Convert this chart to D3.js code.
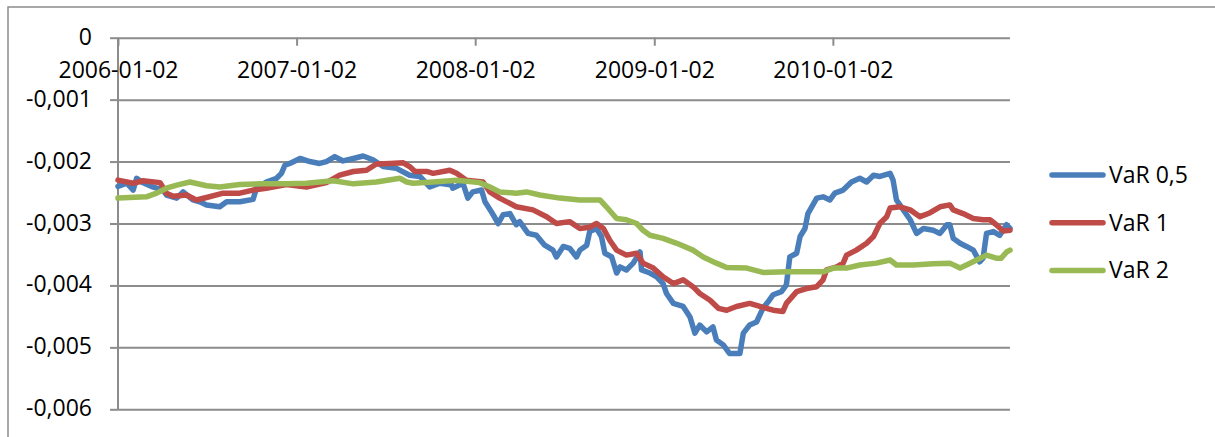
<!DOCTYPE html>
<html>
<head>
<meta charset="utf-8">
<script src="https://cdn.jsdelivr.net/npm/d3@7/dist/d3.min.js"></script>
<style>
  html, body { margin: 0; padding: 0; background: #ffffff; }
  svg { display: block; }
  text { font-family: "Open Sans", "Liberation Sans", sans-serif; fill: #000; }
</style>
</head>
<body>
<svg id="chart" width="1215" height="437"></svg>
<script>
// Tick labels of the two axes
const xTickDates = ["2006-01-02", "2007-01-02", "2008-01-02", "2009-01-02", "2010-01-02"];
const yTickValues = [0, -0.001, -0.002, -0.003, -0.004, -0.005, -0.006];

// Series names as shown in the legend
const seriesNames = ["VaR 0,5", "VaR 1", "VaR 2"];

// VaR 0,5
const var05 = [
  ["2006-01-02", -0.00240], ["2006-01-20", -0.00235], ["2006-02-02", -0.00246], ["2006-02-09", -0.00227],
  ["2006-02-19", -0.00233], ["2006-03-14", -0.00241], ["2006-04-04", -0.00246], ["2006-04-11", -0.00254],
  ["2006-05-02", -0.00259], ["2006-05-15", -0.00249], ["2006-06-04", -0.00262], ["2006-06-18", -0.00265],
  ["2006-07-02", -0.00270], ["2006-07-29", -0.00273], ["2006-08-12", -0.00265], ["2006-09-08", -0.00265],
  ["2006-10-05", -0.00261], ["2006-10-12", -0.00243], ["2006-11-01", -0.00233], ["2006-11-22", -0.00227],
  ["2006-12-02", -0.00219], ["2006-12-09", -0.00206], ["2006-12-19", -0.00203], ["2007-01-09", -0.00195],
  ["2007-01-29", -0.00200], ["2007-02-18", -0.00203], ["2007-03-04", -0.00200], ["2007-03-21", -0.00192],
  ["2007-04-07", -0.00199], ["2007-04-28", -0.00195], ["2007-05-18", -0.00191], ["2007-06-07", -0.00197],
  ["2007-06-28", -0.00208], ["2007-07-25", -0.00211], ["2007-08-21", -0.00222], ["2007-09-11", -0.00224],
  ["2007-10-01", -0.00241], ["2007-10-22", -0.00235], ["2007-11-15", -0.00238], ["2007-11-17", -0.00243],
  ["2007-12-08", -0.00235], ["2007-12-18", -0.00259], ["2007-12-28", -0.00249], ["2008-01-15", -0.00246],
  ["2008-01-22", -0.00265], ["2008-02-04", -0.00281], ["2008-02-18", -0.00300], ["2008-02-28", -0.00286],
  ["2008-03-13", -0.00284], ["2008-03-26", -0.00302], ["2008-04-02", -0.00297], ["2008-04-19", -0.00316],
  ["2008-05-06", -0.00319], ["2008-05-23", -0.00335], ["2008-06-09", -0.00343], ["2008-06-16", -0.00354],
  ["2008-06-30", -0.00337], ["2008-07-13", -0.00340], ["2008-07-27", -0.00354], ["2008-08-03", -0.00343],
  ["2008-08-17", -0.00335], ["2008-08-23", -0.00313], ["2008-09-06", -0.00308], ["2008-09-16", -0.00321],
  ["2008-09-23", -0.00348], ["2008-10-07", -0.00354], ["2008-10-17", -0.00380], ["2008-10-24", -0.00370],
  ["2008-11-06", -0.00375], ["2008-11-20", -0.00364], ["2008-12-04", -0.00346], ["2008-12-07", -0.00375],
  ["2008-12-24", -0.00380], ["2009-01-07", -0.00386], ["2009-01-20", -0.00397], ["2009-01-27", -0.00413],
  ["2009-02-10", -0.00429], ["2009-03-02", -0.00434], ["2009-03-16", -0.00451], ["2009-03-26", -0.00477],
  ["2009-04-05", -0.00464], ["2009-04-19", -0.00475], ["2009-05-02", -0.00467], ["2009-05-09", -0.00488],
  ["2009-05-23", -0.00496], ["2009-06-05", -0.00510], ["2009-06-26", -0.00510], ["2009-07-03", -0.00477],
  ["2009-07-16", -0.00464], ["2009-07-30", -0.00459], ["2009-08-12", -0.00437], ["2009-08-23", -0.00426],
  ["2009-09-02", -0.00415], ["2009-09-19", -0.00410], ["2009-09-29", -0.00399], ["2009-10-06", -0.00354],
  ["2009-10-20", -0.00348], ["2009-10-27", -0.00321], ["2009-11-06", -0.00308], ["2009-11-12", -0.00284],
  ["2009-11-30", -0.00259], ["2009-12-13", -0.00257], ["2009-12-27", -0.00262], ["2010-01-06", -0.00251],
  ["2010-01-23", -0.00246], ["2010-02-09", -0.00233], ["2010-02-26", -0.00227], ["2010-03-12", -0.00233],
  ["2010-03-26", -0.00222], ["2010-04-08", -0.00224], ["2010-04-29", -0.00219], ["2010-05-05", -0.00230],
  ["2010-05-12", -0.00262], ["2010-05-26", -0.00278], ["2010-06-09", -0.00294], ["2010-06-22", -0.00316],
  ["2010-07-06", -0.00308], ["2010-07-26", -0.00311], ["2010-08-09", -0.00316], ["2010-08-23", -0.00302],
  ["2010-08-29", -0.00302], ["2010-09-05", -0.00324], ["2010-09-19", -0.00332], ["2010-10-02", -0.00337],
  ["2010-10-16", -0.00343], ["2010-10-29", -0.00362], ["2010-11-05", -0.00356], ["2010-11-12", -0.00316],
  ["2010-11-26", -0.00313], ["2010-12-09", -0.00319], ["2010-12-23", -0.00302], ["2010-12-30", -0.00308]
];

// VaR 1
const var1 = [
  ["2006-01-02", -0.00230], ["2006-02-02", -0.00235], ["2006-02-22", -0.00231], ["2006-03-29", -0.00234],
  ["2006-04-11", -0.00251], ["2006-04-25", -0.00256], ["2006-05-22", -0.00254], ["2006-06-11", -0.00262],
  ["2006-07-02", -0.00258], ["2006-08-05", -0.00251], ["2006-09-08", -0.00251], ["2006-10-05", -0.00246],
  ["2006-11-01", -0.00243], ["2006-12-12", -0.00237], ["2007-01-22", -0.00241], ["2007-03-04", -0.00234],
  ["2007-03-31", -0.00222], ["2007-04-28", -0.00216], ["2007-05-25", -0.00214], ["2007-06-14", -0.00204],
  ["2007-07-12", -0.00203], ["2007-08-08", -0.00202], ["2007-08-21", -0.00208], ["2007-09-01", -0.00216],
  ["2007-09-25", -0.00216], ["2007-10-08", -0.00219], ["2007-11-11", -0.00214], ["2007-11-25", -0.00219],
  ["2007-12-15", -0.00230], ["2008-01-18", -0.00233], ["2008-02-01", -0.00249], ["2008-02-21", -0.00259],
  ["2008-03-26", -0.00273], ["2008-04-29", -0.00278], ["2008-05-27", -0.00289], ["2008-06-16", -0.00300],
  ["2008-07-13", -0.00297], ["2008-08-03", -0.00308], ["2008-08-23", -0.00306], ["2008-09-06", -0.00300],
  ["2008-09-20", -0.00308], ["2008-10-03", -0.00327], ["2008-10-17", -0.00343], ["2008-11-06", -0.00351],
  ["2008-11-27", -0.00348], ["2008-12-10", -0.00364], ["2008-12-31", -0.00372], ["2009-01-20", -0.00386],
  ["2009-02-10", -0.00397], ["2009-03-02", -0.00391], ["2009-03-22", -0.00402], ["2009-04-05", -0.00413],
  ["2009-04-26", -0.00424], ["2009-05-13", -0.00437], ["2009-05-30", -0.00440], ["2009-06-19", -0.00434],
  ["2009-07-16", -0.00429], ["2009-08-06", -0.00434], ["2009-09-02", -0.00440], ["2009-09-22", -0.00442],
  ["2009-09-29", -0.00429], ["2009-10-20", -0.00410], ["2009-11-09", -0.00405], ["2009-11-30", -0.00402],
  ["2009-12-13", -0.00391], ["2009-12-20", -0.00375], ["2010-01-10", -0.00370], ["2010-01-23", -0.00364],
  ["2010-01-30", -0.00351], ["2010-02-19", -0.00343], ["2010-03-12", -0.00332], ["2010-03-26", -0.00321],
  ["2010-04-08", -0.00300], ["2010-04-22", -0.00289], ["2010-04-29", -0.00275], ["2010-05-19", -0.00273],
  ["2010-06-09", -0.00278], ["2010-06-29", -0.00289], ["2010-07-19", -0.00283], ["2010-08-09", -0.00273],
  ["2010-08-29", -0.00270], ["2010-09-05", -0.00278], ["2010-09-25", -0.00284], ["2010-10-16", -0.00292],
  ["2010-11-05", -0.00294], ["2010-11-19", -0.00294], ["2010-12-02", -0.00302], ["2010-12-16", -0.00312],
  ["2010-12-30", -0.00311]
];

// VaR 2
const var2 = [
  ["2006-01-02", -0.00259], ["2006-03-01", -0.00257], ["2006-03-22", -0.00251], ["2006-04-11", -0.00243],
  ["2006-05-02", -0.00238], ["2006-05-29", -0.00233], ["2006-07-02", -0.00239], ["2006-07-29", -0.00241],
  ["2006-09-08", -0.00237], ["2006-10-19", -0.00236], ["2006-12-12", -0.00236], ["2007-01-22", -0.00235],
  ["2007-03-18", -0.00231], ["2007-04-28", -0.00236], ["2007-06-14", -0.00233], ["2007-08-01", -0.00227],
  ["2007-08-15", -0.00233], ["2007-08-28", -0.00235], ["2007-10-08", -0.00233], ["2007-11-25", -0.00230],
  ["2008-01-11", -0.00234], ["2008-02-01", -0.00241], ["2008-02-21", -0.00249], ["2008-03-26", -0.00251],
  ["2008-04-16", -0.00249], ["2008-05-13", -0.00254], ["2008-06-23", -0.00259], ["2008-08-03", -0.00262],
  ["2008-09-13", -0.00262], ["2008-09-26", -0.00273], ["2008-10-17", -0.00292], ["2008-11-06", -0.00294],
  ["2008-11-27", -0.00300], ["2008-12-10", -0.00311], ["2008-12-24", -0.00319], ["2009-01-20", -0.00324],
  ["2009-02-17", -0.00332], ["2009-03-22", -0.00343], ["2009-04-12", -0.00354], ["2009-05-09", -0.00364],
  ["2009-05-30", -0.00371], ["2009-07-10", -0.00372], ["2009-08-12", -0.00379], ["2009-09-29", -0.00378],
  ["2009-11-09", -0.00378], ["2009-12-13", -0.00378], ["2010-01-03", -0.00372], ["2010-01-30", -0.00372],
  ["2010-02-26", -0.00367], ["2010-04-01", -0.00364], ["2010-04-29", -0.00359], ["2010-05-12", -0.00367],
  ["2010-06-15", -0.00367], ["2010-07-26", -0.00365], ["2010-08-29", -0.00364], ["2010-09-19", -0.00372],
  ["2010-10-02", -0.00367], ["2010-10-23", -0.00359], ["2010-11-12", -0.00351], ["2010-12-02", -0.00356],
  ["2010-12-12", -0.00356], ["2010-12-23", -0.00346], ["2010-12-30", -0.00343]
];

const seriesColors = ["#4a7ebb", "#be4b48", "#98b954"];

const parse = d3.timeParse("%Y-%m-%d");
const series = [var05, var1, var2].map((rows, i) => ({
  name: seriesNames[i],
  color: seriesColors[i],
  values: rows.map(([d, v]) => ({ date: parse(d), value: v }))
}));

const svg = d3.select("#chart");
const gridColor = "#8c8c8c";

// outer chart frame (runs past the right and bottom edges)
svg.append("rect")
  .attr("x", 8).attr("y", 7)
  .attr("width", 1300).attr("height", 500)
  .attr("fill", "none")
  .attr("stroke", "#8c8c8c")
  .attr("stroke-width", 1.5);

const plot = { left: 118, right: 1010, top: 37.7, bottom: 409.3 };

const x = d3.scaleTime()
  .domain([parse("2006-01-02"), parse("2010-12-30")])
  .range([plot.left, plot.right]);

const y = d3.scaleLinear()
  .domain([-0.006, 0])
  .range([plot.bottom, plot.top]);

const comma = d3.formatLocale({
  decimal: ",", thousands: " ", grouping: [3], currency: ["", ""], minus: "-"
}).format(".3f");
const yFormat = v => (v === 0 ? "0" : comma(v));

// horizontal gridlines with outward ticks on the value axis
const yAxis = d3.axisLeft(y)
  .tickValues(yTickValues)
  .tickFormat(yFormat)
  .tickSize(8)
  .tickPadding(18);

const gy = svg.append("g")
  .attr("transform", `translate(${plot.left},0)`)
  .call(yAxis);
gy.select(".domain").remove();
gy.selectAll(".tick line").attr("stroke", gridColor).attr("stroke-width", 2);
gy.selectAll(".tick")
  .append("line")
  .attr("x1", 0).attr("x2", plot.right - plot.left)
  .attr("stroke", gridColor).attr("stroke-width", 2);
gy.selectAll(".tick text")
  .attr("dy", null)
  .attr("y", 6.5)
  .attr("font-size", 23)
  .attr("font-family", "'Open Sans', 'Liberation Sans', sans-serif")
  .attr("fill", "#000");

// vertical axis line
svg.append("line")
  .attr("x1", plot.left).attr("x2", plot.left)
  .attr("y1", plot.top).attr("y2", plot.bottom)
  .attr("stroke", gridColor).attr("stroke-width", 2);

// category axis sits on the zero line, ticks pointing down into the plot
const xAxis = d3.axisBottom(x)
  .tickValues(xTickDates.map(parse))
  .tickFormat(d3.timeFormat("%Y-%m-%d"))
  .tickSize(8)
  .tickPadding(0);

const gx = svg.append("g")
  .attr("transform", `translate(0,${plot.top})`)
  .call(xAxis);
gx.select(".domain").remove();
gx.selectAll(".tick line").attr("stroke", gridColor).attr("stroke-width", 2);
gx.selectAll(".tick text")
  .attr("dy", null)
  .attr("y", 40.6)
  .attr("font-size", 23)
  .attr("font-family", "'Open Sans', 'Liberation Sans', sans-serif")
  .attr("fill", "#000");

// series lines
const line = d3.line()
  .x(d => x(d.date))
  .y(d => y(d.value));

svg.append("g")
  .selectAll("path")
  .data(series)
  .join("path")
  .attr("d", d => line(d.values))
  .attr("fill", "none")
  .attr("stroke", d => d.color)
  .attr("stroke-width", 5.5)
  .attr("stroke-linejoin", "round")
  .attr("stroke-linecap", "round");

// legend
const legend = svg.append("g")
  .attr("transform", "translate(1050,175)");
const item = legend.selectAll("g")
  .data(series)
  .join("g")
  .attr("transform", (d, i) => `translate(0,${i * 47.8})`);
item.append("line")
  .attr("x1", 2).attr("x2", 53)
  .attr("stroke", d => d.color)
  .attr("stroke-width", 5.5)
  .attr("stroke-linecap", "round");
item.append("text")
  .attr("x", 59)
  .attr("y", 7.7)
  .attr("font-size", 23)
  .text(d => d.name);
</script>
</body>
</html>
